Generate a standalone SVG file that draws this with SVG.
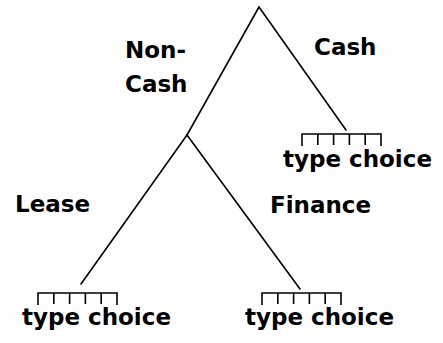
<svg xmlns="http://www.w3.org/2000/svg" width="443" height="343" viewBox="0 0 443 343">
<style>
text{font-family:"DejaVu Sans",sans-serif;font-weight:bold;font-size:23px;fill:#000}
.ln{stroke:#000;stroke-width:1.6;fill:none;stroke-linecap:round}
.comb{stroke:#000;stroke-width:1.6;fill:none}
</style>
<defs>
<path id="comb" class="comb" d="M0,12V0H79V12M15.8,0V11M31.6,0V11M47.4,0V11M63.2,0V11"/>
</defs>
<rect width="443" height="343" fill="#fff"/>
<g id="connectors">
<line class="ln" x1="259" y1="7" x2="187" y2="135"/>
<line class="ln" x1="259" y1="7" x2="346" y2="130"/>
<line class="ln" x1="187" y1="135" x2="81" y2="284"/>
<line class="ln" x1="187" y1="135" x2="300" y2="289"/>
</g>
<g id="labels">
<text x="125" y="58">Non-</text>
<text x="125" y="92">Cash</text>
<text x="314" y="55">Cash</text>
<text x="15" y="212">Lease</text>
<text x="270" y="213">Finance</text>
</g>
<g id="node-cash">
<use href="#comb" x="302" y="134"/>
<text x="283" y="167">type choice</text>
</g>
<g id="node-lease">
<use href="#comb" x="38" y="293"/>
<text x="22" y="325">type choice</text>
</g>
<g id="node-finance">
<use href="#comb" x="262" y="293"/>
<text x="245" y="325">type choice</text>
</g>
</svg>
